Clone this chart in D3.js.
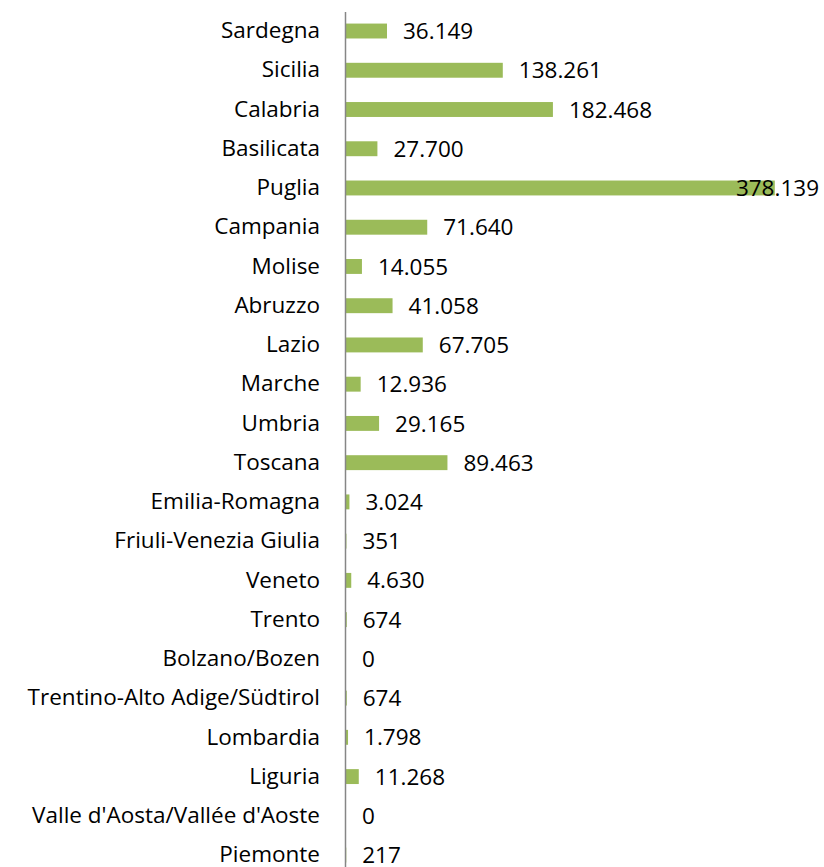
<!DOCTYPE html>
<html>
<head>
<meta charset="utf-8">
<script src="https://cdn.jsdelivr.net/npm/d3@7"></script>
<style>
  body { margin: 0; background: #fff; }
</style>
</head>
<body>
<div id="wrapper"></div>
<script>
// regions, top to bottom as drawn
const regions = ["Sardegna", "Sicilia", "Calabria", "Basilicata", "Puglia", "Campania", "Molise",
    "Abruzzo", "Lazio", "Marche", "Umbria", "Toscana", "Emilia-Romagna", "Friuli-Venezia Giulia",
    "Veneto", "Trento", "Bolzano/Bozen", "Trentino-Alto Adige/Südtirol", "Lombardia", "Liguria",
    "Valle d'Aosta/Vallée d'Aoste", "Piemonte"];
const values = [36149, 138261, 182468, 27700, 378139, 71640, 14055,
    41058, 67705, 12936, 29165, 89463, 3024, 351,
    4630, 674, 0, 674, 1798, 11268,
    0, 217];

const dimension = {
    width: 824,
    height: 867,
    margin: { top: 11.4, left: 346, bottom: 0, right: 5 }
};
const fontFamily = "'Open Sans', sans-serif";
const fontSize = "22.5px";

const svg = d3.select("#wrapper").append("svg")
    .attr("width", dimension.width)
    .attr("height", dimension.height)
    .style("font-family", fontFamily);

const xScaler = d3.scaleLinear()
    .domain([0, 400000])
    .range([dimension.margin.left, dimension.margin.left + 453.6]);

const yScaler = d3.scaleBand()
    .domain(regions)
    .range([dimension.margin.top, dimension.margin.top + 22 * 39.24])
    .paddingInner(0.62)
    .paddingOuter(0.31);

const data = regions.map((r, i) => ({ region: r, value: values[i] }));

svg.append("g").selectAll("rect")
    .data(data)
    .enter()
    .append("rect")
    .attr("x", xScaler(0))
    .attr("y", d => yScaler(d.region))
    .attr("width", d => xScaler(d.value) - xScaler(0))
    .attr("height", yScaler.bandwidth())
    .attr("fill", "#9BBB59");

// value labels, italian thousands separator
const fmt = d3.formatLocale({ decimal: ",", thousands: ".", grouping: [3], currency: ["€", ""] }).format(",d");

const labels = svg.append("g").selectAll("text")
    .data(data)
    .enter()
    .append("text")
    .attr("x", d => xScaler(d.value) + 16)
    .attr("y", d => yScaler(d.region) + yScaler.bandwidth() / 2)
    .attr("dy", "0.36em")
    .attr("font-size", fontSize)
    .attr("fill", "#000")
    .text(d => fmt(d.value));

// keep labels inside the picture
labels.each(function () {
    const w = this.getComputedTextLength();
    const x = +this.getAttribute("x");
    if (x + w > dimension.width - dimension.margin.right) {
        this.setAttribute("x", dimension.width - dimension.margin.right - w);
    }
});

const yAxisGen = d3.axisLeft(yScaler).tickSize(0).tickPadding(25);
const yAxis = svg.append("g")
    .attr("transform", `translate(${dimension.margin.left - 1},0)`)
    .call(yAxisGen);
yAxis.select(".domain").attr("stroke", "#868686").attr("stroke-width", 1.5);
yAxis.selectAll("text")
    .attr("font-size", fontSize)
    .attr("fill", "#000")
    .style("font-family", fontFamily);
</script>
</body>
</html>
